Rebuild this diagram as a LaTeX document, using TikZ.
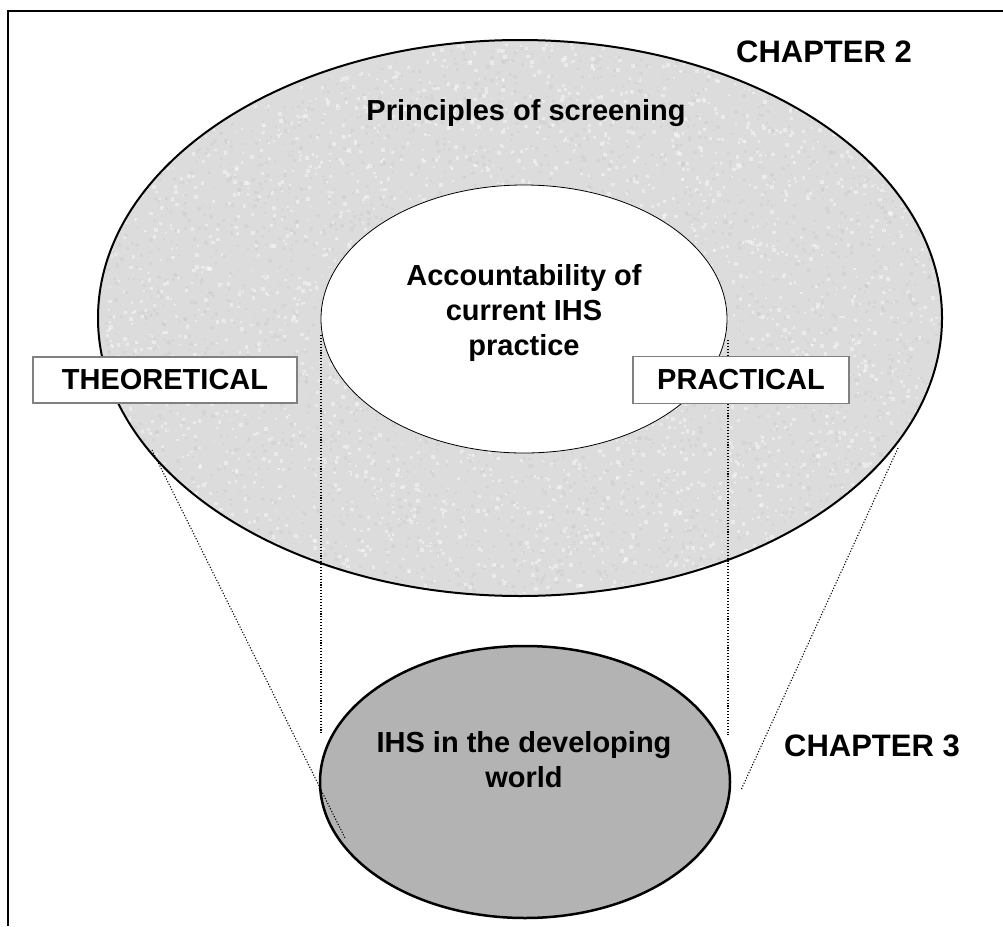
\documentclass[tikz,border=0pt]{standalone}
\usepackage{fontspec}
\setmainfont{Liberation Sans}
\usetikzlibrary{shapes.geometric}
\definecolor{screenGrey}{HTML}{DCDCDC}
\definecolor{worldGrey}{HTML}{B3B3B3}
\definecolor{tagLine}{HTML}{808080}

\begin{document}
\begin{tikzpicture}[x=1pt,y=-1pt,
  ring/.style={draw=black,ellipse,inner sep=0pt},
  guide/.style={draw=black,line width=1.1pt,dash pattern=on 1.1pt off 1.8pt},
  tag/.style={draw=tagLine,fill=white,line width=1.5pt,inner sep=0pt,font=\fontsize{29}{35}\selectfont\bfseries},
  chap/.style={font=\fontsize{31}{37}\selectfont\bfseries},
  txt/.style={align=center,font=\fontsize{29}{35}\selectfont\bfseries},
  granite/.style={path picture={
    \pgfmathsetseed{42}
    \foreach \k [evaluate=\k as \px using {rand*425},
                 evaluate=\k as \py using {rand*280},
                 evaluate=\k as \sz using {1.5+rnd*2.5}] in {1,...,7000}{
      \ifodd\k
        \fill[gray!45,opacity=.3] (\px,\py) rectangle ++(\sz,\sz);
      \else
        \fill[white,opacity=.4] (\px,\py) rectangle ++(\sz,\sz);
      \fi
    }}}]
\useasboundingbox (0,0) rectangle (1003,926);
% frame
\draw[line width=2pt] (8,926) -- (8,11) -- (1003,11);
% chapter 2 rings
\node[ring,fill=screenGrey,granite,line width=2pt,minimum width=844pt,minimum height=556pt] (outer) at (520,318) {};
\node[ring,fill=white,line width=0.8pt,minimum width=406pt,minimum height=268pt] (inner) at (524,319) {};
\coordinate (gl1) at (321,335);
\coordinate (gl2) at (321,735);
\coordinate (gr1) at (728,340);
\coordinate (gr2) at (728,735);
\draw[guide] (gl1) -- (gl2);
\draw[guide] (gr1) -- (gr2);
% chapter 3
\node[ring,fill=worldGrey,line width=2.5pt,minimum width=410pt,minimum height=272pt] (world) at (525,782) {};
\coordinate (dl1) at (152,450);
\coordinate (dl2) at (345,838);
\coordinate (dr1) at (898,448);
\coordinate (dr2) at (741,790);
\draw[guide] (dl1) -- (dl2);
\draw[guide] (dr1) -- (dr2);
% labels
\node[chap] (ch2) at (824,52) {CHAPTER 2};
\node[txt] (principles) at (526,113) {Principles of screening};
\node[txt] (acc) at (524,313) {Accountability of\\current IHS\\practice};
\node[tag,minimum width=264pt,minimum height=46pt] (theory) at (165,380) {THEORETICAL};
\node[tag,minimum width=216pt,minimum height=47pt] (practice) at (741,380) {PRACTICAL};
\node[txt] (ihs) at (524,760) {IHS in the developing\\world};
\node[chap] (ch3) at (872,746) {CHAPTER 3};
\end{tikzpicture}
\end{document}
